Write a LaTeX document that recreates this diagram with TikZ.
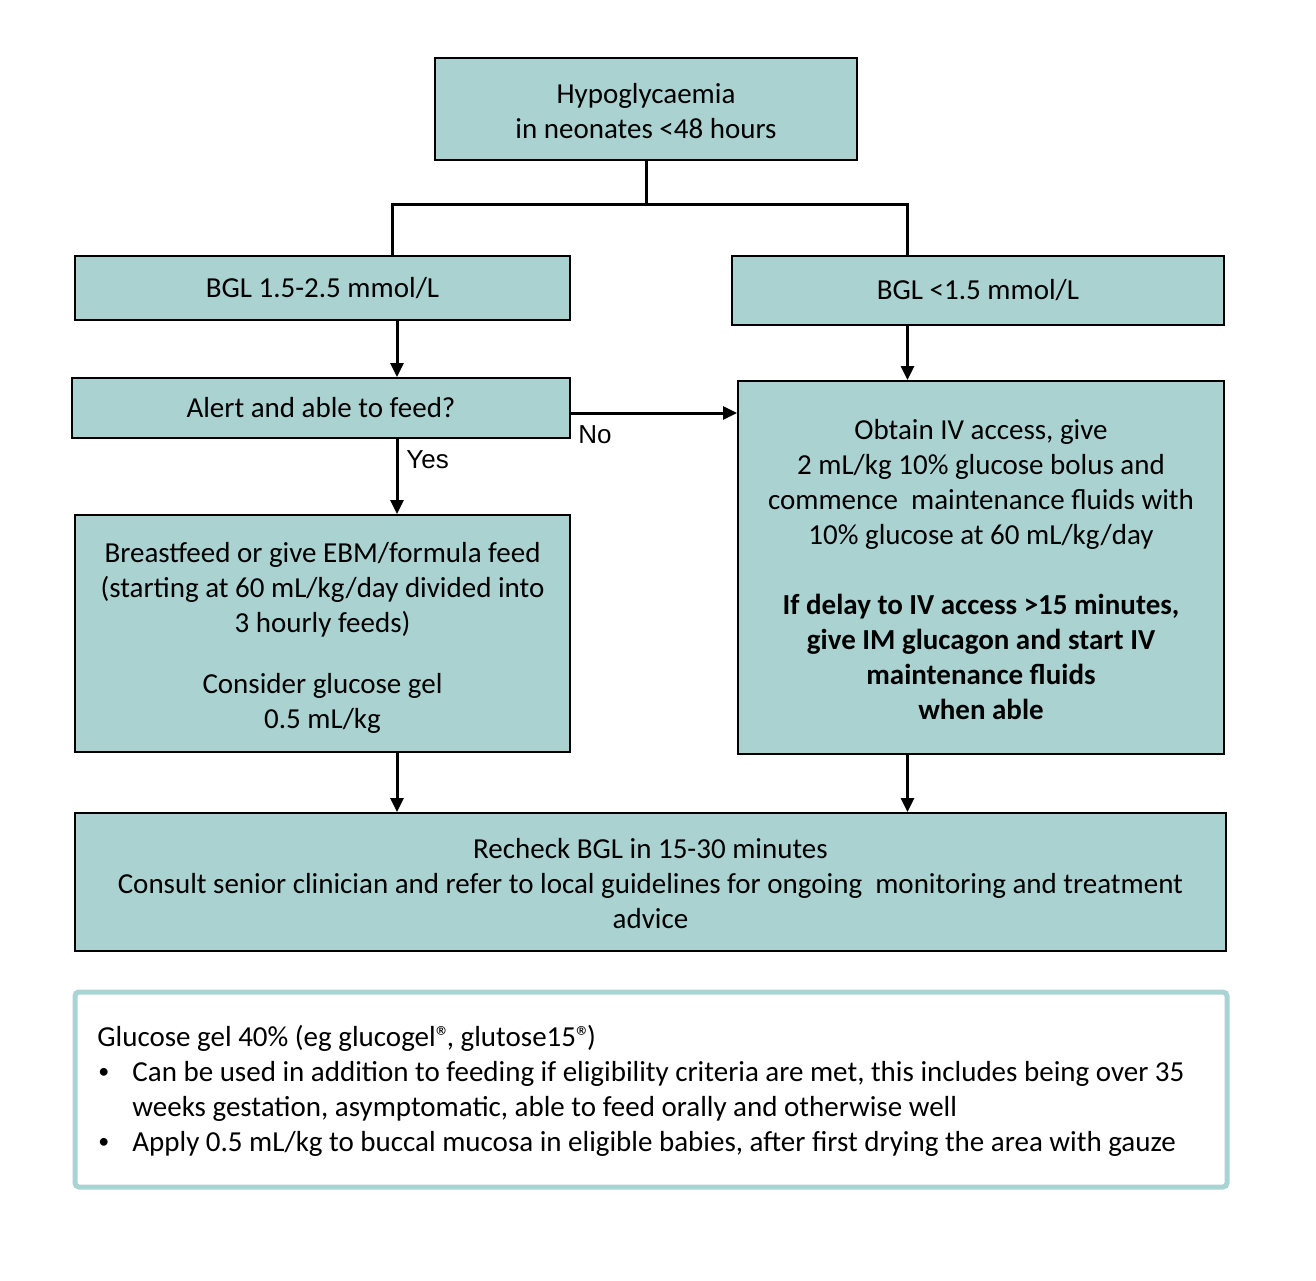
\documentclass[tikz,border=0pt]{standalone}
\usepackage{fontspec}
\setmainfont{Carlito}
\newfontfamily\arialfont{Liberation Sans}
\usepackage{xcolor}
\usetikzlibrary{positioning,calc,arrows.meta}
\definecolor{teal box}{RGB}{170,210,209}
\definecolor{note edge}{RGB}{170,212,211}
\newcommand{\bul}{\makebox[17.5pt][l]{\hspace{0.5pt}\raisebox{1.2pt}{\fontsize{11}{11}\selectfont\textbullet}}}
\newcommand{\reg}{®\kern-1.8pt}
% struts for first and last line of the taller boxes
\newcommand{\fst}{\rule{0pt}{15pt}}
\newcommand{\lst}{\rule[-3.5pt]{0pt}{3.5pt}}

\begin{document}
\begin{tikzpicture}[x=0.5pt,y=-0.5pt,
    box/.style={draw=black, line width=1pt, fill=teal box, align=center, inner sep=0pt,
        font=\fontsize{14.5}{17.5}\selectfont},
    link/.style={line width=1.5pt},
    arr/.style={line width=1.5pt, -{Triangle[length=7pt,width=6.5pt]}},
    lbl/.style={font=\arialfont\fontsize{13}{15}\selectfont, inner sep=0pt}]
    \useasboundingbox (0,0) rectangle (1316,1280);

    % Boxes
    \node[box, minimum width=211pt, minimum height=51pt] (hypo) at (646,109)
        {\fst Hypoglycaemia\\in neonates <48 hours\lst};
    \node[box, minimum width=247.5pt, minimum height=32pt] (bglA) at (322.5,288)
        {BGL 1.5-2.5 mmol/L};
    \node[box, minimum width=246pt, minimum height=34.5pt] (bglB) at (978,290.5)
        {BGL <1.5 mmol/L};
    \node[box, minimum width=249pt, minimum height=30pt] (alert) at (321,408)
        {Alert and able to feed?};
    \node[box, minimum width=243pt, minimum height=186.5pt] (iv) at (981,567.5)
        {\fst Obtain IV access, give\\
         2 mL/kg 10\% glucose bolus and\\
         commence\ \ maintenance fluids with\\
         10\% glucose at 60 mL/kg/day\\[17.5pt]
         \textbf{If delay to IV access >15 minutes,}\\
         \textbf{give IM glucagon and start IV}\\
         \textbf{maintenance fluids}\\
         \textbf{when able}\lst};
    \node[box, minimum width=247.5pt, minimum height=118.5pt] (feed) at (322.5,633.5)
        {\fst Breastfeed or give EBM/formula feed\\
         (starting at 60 mL/kg/day divided into\\
         3 hourly feeds)\\[13pt]
         Consider glucose gel\\
         0.5 mL/kg\lst};
    \node[box, minimum width=575.5pt, minimum height=69pt] (recheck) at (650.5,882)
        {\fst Recheck BGL in 15-30 minutes\\
         Consult senior clinician and refer to local guidelines for ongoing\ \ monitoring and treatment\\
         advice\lst};

    % Note
    \node[draw=note edge, line width=2.5pt, rounded corners=2pt, minimum width=576pt,
        minimum height=97.5pt] (note) at (651,1089.5) {};
    \node[anchor=west, align=left, inner sep=0pt, font=\fontsize{14.5}{17.5}\selectfont]
        (notetext) at (97,1090.5)
        {Glucose gel 40\% (eg glucogel\reg, glutose15\reg)\\
         \bul Can be used in addition to feeding if eligibility criteria are met, this includes being over 35\\
         \hspace*{17.5pt}weeks gestation, asymptomatic, able to feed orally and otherwise well\\
         \bul Apply 0.5 mL/kg to buccal mucosa in eligible babies, after first drying the area with gauze};

    % Split
    \coordinate (splitL) at (392,204);
    \coordinate (splitR) at (907,204);
    \coordinate (colL) at (397,0);
    \coordinate (colR) at (907.5,0);
    \coordinate (noY) at (0,413);
    \draw[link] (hypo.south) -- (hypo.south |- splitL);
    \draw[link] (bglA.north -| splitL) -- (splitL) -- (splitR) -- (bglB.north -| splitR);

    % Arrows
    \draw[arr] (bglA.south -| colL) -- (alert.north -| colL);
    \draw[arr] (alert.south -| colL) -- (feed.north -| colL);
    \draw[arr] (feed.south -| colL) -- (recheck.north -| colL);
    \draw[arr] (bglB.south -| colR) -- (iv.north -| colR);
    \draw[arr] (iv.south -| colR) -- (recheck.north -| colR);
    \draw[arr] (alert.east |- noY) -- (iv.west |- noY);
    \node[lbl, anchor=west] (no) at (578,435) {No};
    \node[lbl, anchor=west] (yes) at (406,460) {Yes};
\end{tikzpicture}
\end{document}
